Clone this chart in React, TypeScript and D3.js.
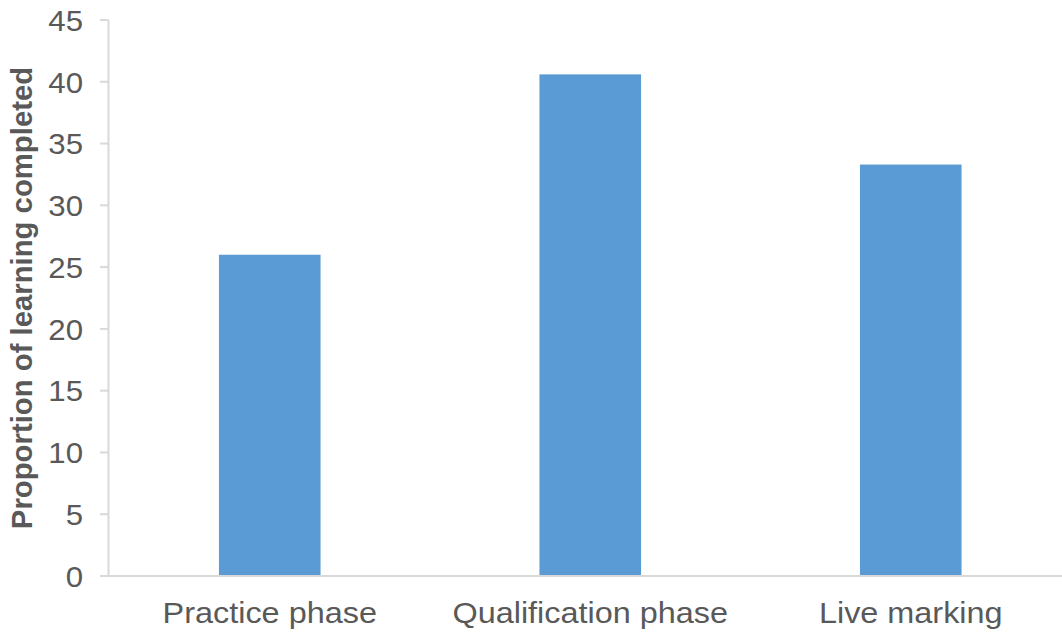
import React from "react";
import * as d3 from "d3";

const categories: string[] = ["Practice phase", "Qualification phase", "Live marking"];
const values: number[] = [26.0, 40.6, 33.3];
const yTicks: number[] = [0, 5, 10, 15, 20, 25, 30, 35, 40, 45];
const yTitle = "Proportion of learning completed";

const W = 1062;
const H = 634;
const axisX = 108.5;
const baseY = 576;
const topY = 20;

export default function App() {
  const x = d3
    .scaleBand<string>()
    .domain(categories)
    .range([109.5, 1071])
    .paddingInner(0.683)
    .paddingOuter(0.683 / 2);
  const y = d3.scaleLinear().domain([0, 45]).range([baseY, topY]);
  const font = "'Liberation Sans', Arial, sans-serif";
  const textColor = "#595959";
  const axisColor = "#D9D9D9";

  return (
    <svg
      width={W}
      height={H}
      style={{ position: "absolute", left: 0, top: 0, background: "#fff" }}
      fontFamily={font}
    >
      {values.map((v, i) => (
        <rect
          key={categories[i]}
          x={x(categories[i])}
          y={y(v)}
          width={x.bandwidth()}
          height={y(0) - y(v)}
          fill="#5B9BD5"
        />
      ))}
      <line x1={axisX} x2={axisX} y1={y(45)} y2={y(0)} stroke={axisColor} strokeWidth={2} />
      <line x1={axisX} x2={W} y1={y(0)} y2={y(0)} stroke={axisColor} strokeWidth={2} />
      {yTicks.map((t) => (
        <g key={t}>
          <line x1={100} x2={axisX} y1={y(t)} y2={y(t)} stroke={axisColor} strokeWidth={2} />
          <text
            transform={`translate(83, ${y(t)}) scale(1.04, 1)`}
            dy="0.36em"
            textAnchor="end"
            fontSize={30}
            fill={textColor}
          >
            {t}
          </text>
        </g>
      ))}
      {categories.map((c) => (
        <text
          key={c}
          transform={`translate(${(x(c) as number) + x.bandwidth() / 2}, 623) scale(1.08, 1)`}
          textAnchor="middle"
          fontSize={30}
          fill={textColor}
        >
          {c}
        </text>
      ))}
      <text
        transform={`translate(32, 298) rotate(-90)`}
        textAnchor="middle"
        fontSize={29.3}
        fontWeight="bold"
        fill={textColor}
      >
        {yTitle}
      </text>
    </svg>
  );
}
